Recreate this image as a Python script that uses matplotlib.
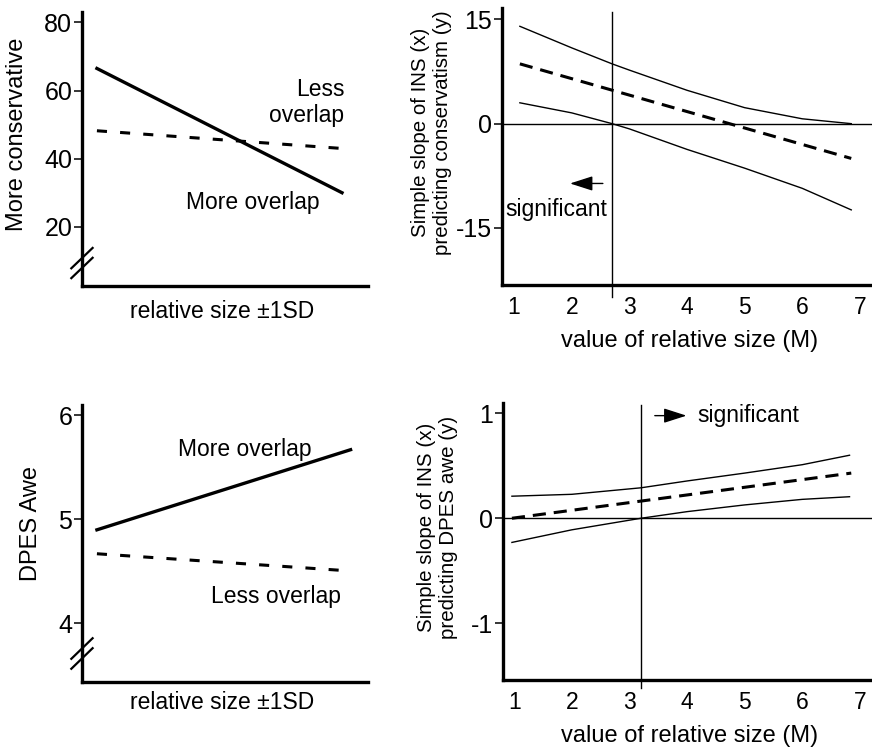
import matplotlib
matplotlib.use("Agg")
import matplotlib.pyplot as plt

plt.rcParams["font.family"] = ["Liberation Sans", "DejaVu Sans"]
plt.rcParams["axes.unicode_minus"] = False

# panel A: conservatism at relative size -1SD / +1SD
a_x_solid = [-1.0, 1.0]
a_more_overlap = [66.5, 30.0]
a_x_dash = [-1.0, 1.0]
a_less_overlap = [48.2, 43.0]
a_yticks = [20, 40, 60, 80]

# panel B: simple slope on conservatism across relative size
b_line_x = [1.1, 6.85]
b_slope = [8.6, -5.0]
b_ci_x = [1.1, 2.0, 2.7, 3.0, 4.0, 5.0, 6.0, 6.85]
b_ci_upper = [14.0, 10.9, 8.6, 7.7, 4.8, 2.3, 0.7, 0.0]
b_ci_lower = [3.0, 1.55, 0.0, -0.75, -3.7, -6.4, -9.3, -12.4]
b_jn = 2.70
b_yticks = [-15, 0, 15]

# panel C: DPES awe at relative size -1SD / +1SD
c_x_solid = [-1.0, 1.07]
c_more_overlap = [4.90, 5.67]
c_x_dash = [-1.0, 1.0]
c_less_overlap = [4.67, 4.51]
c_yticks = [4, 5, 6]

# panel D: simple slope on DPES awe across relative size
d_line_x = [0.96, 6.85]
d_slope = [0.0, 0.43]
d_ci_x = [0.96, 2.0, 3.2, 4.0, 5.0, 6.0, 6.82]
d_ci_upper = [0.21, 0.228, 0.29, 0.355, 0.43, 0.51, 0.60]
d_ci_lower = [-0.23, -0.11, 0.0, 0.063, 0.127, 0.18, 0.205]
d_jn = 3.2
d_yticks = [-1, 0, 1]

xticks_m = [1, 2, 3, 4, 5, 6, 7]

fig = plt.figure(figsize=(8.72, 7.48), dpi=100)
axA = fig.add_axes([0.094, 0.6176, 0.328, 0.366])
axB = fig.add_axes([0.5757, 0.619, 0.4243, 0.370])
axC = fig.add_axes([0.094, 0.0886, 0.328, 0.370])
axD = fig.add_axes([0.5765, 0.0909, 0.4235, 0.370])

SPINE = 2.4
THIN = 1.0
DASH_AC = (0, (3.3, 4.3))
DASH_BD = (0, (4.3, 2.6))
ARROW = dict(arrowstyle="-|>,head_length=1.4,head_width=0.45",
             mutation_scale=10, lw=1.0, color="k", shrinkA=0, shrinkB=0)


def style(ax):
    for s in ["top", "right"]:
        ax.spines[s].set_visible(False)
    for s in ["left", "bottom"]:
        ax.spines[s].set_linewidth(SPINE)
    ax.tick_params(axis="y", direction="out", length=6, width=1.1, pad=1, labelsize=18)
    ax.tick_params(axis="x", length=0, pad=8, labelsize=16.5)


def axis_break(ax, ys):
    for yb in ys:
        ax.plot([-0.04, 0.04], [yb - 0.04, yb + 0.04], transform=ax.transAxes,
                color="k", lw=1.6, clip_on=False, solid_capstyle="butt")


# ---- A
style(axA)
axA.plot(a_x_solid, a_more_overlap, color="k", lw=2.4)
axA.plot(a_x_dash, a_less_overlap, color="k", lw=2.2, linestyle=DASH_AC)
axA.set_xlim(-1.122, 1.212)
axA.set_ylim(2.6, 83)
axA.set_yticks(a_yticks)
axA.set_xticks([])
axA.set_ylabel("More conservative", fontsize=17)
axA.yaxis.set_label_coords(-0.19, 0.555)
axA.set_xlabel("relative size ±1SD", fontsize=16.5)
axA.xaxis.set_label_coords(0.49, -0.05)
axA.text(1.02, 56.5, "Less\noverlap", ha="right", va="center",
         multialignment="right", fontsize=16.5)
axA.text(0.27, 27.2, "More overlap", ha="center", va="center", fontsize=16.5)
axis_break(axA, [0.102, 0.066])

# ---- B
style(axB)
axB.plot(b_ci_x, b_ci_upper, color="k", lw=THIN)
axB.plot(b_ci_x, b_ci_lower, color="k", lw=THIN)
axB.plot(b_line_x, b_slope, color="k", lw=2.2, linestyle=DASH_BD)
axB.axhline(0, color="k", lw=THIN)
axB.axvline(b_jn, ymin=-0.043, ymax=0.986, color="k", lw=THIN, clip_on=False)
axB.set_xlim(0.79, 7.21)
axB.set_ylim(-23.2, 16.6)
axB.set_yticks(b_yticks)
axB.set_xticks(xticks_m)
axB.set_ylabel("Simple slope of INS (x)\npredicting conservatism (y)", fontsize=14.8,
               multialignment="center")
axB.yaxis.set_label_coords(-0.136, 0.55)
axB.set_xlabel("value of relative size (M)", fontsize=17)
axB.xaxis.set_label_coords(0.507, -0.163)
axB.annotate("", xy=(1.97, -8.6), xytext=(2.54, -8.6), arrowprops=ARROW)
axB.text(1.73, -12.4, "significant", ha="center", va="center", fontsize=16.5)

# ---- C
style(axC)
axC.plot(c_x_solid, c_more_overlap, color="k", lw=2.4)
axC.plot(c_x_dash, c_less_overlap, color="k", lw=2.2, linestyle=DASH_AC)
axC.set_xlim(-1.122, 1.212)
axC.set_ylim(3.44, 6.1)
axC.set_yticks(c_yticks)
axC.set_xticks([])
axC.set_ylabel("DPES Awe", fontsize=17)
axC.yaxis.set_label_coords(-0.14, 0.57)
axC.set_xlabel("relative size ±1SD", fontsize=16.5)
axC.xaxis.set_label_coords(0.49, -0.035)
axC.text(0.21, 5.67, "More overlap", ha="center", va="center", fontsize=16.5)
axC.text(0.46, 4.26, "Less overlap", ha="center", va="center", fontsize=16.5)
axis_break(axC, [0.12, 0.084])

# ---- D
style(axD)
axD.plot(d_ci_x, d_ci_upper, color="k", lw=THIN)
axD.plot(d_ci_x, d_ci_lower, color="k", lw=THIN)
axD.plot(d_line_x, d_slope, color="k", lw=2.2, linestyle=DASH_BD)
axD.axhline(0, color="k", lw=THIN)
axD.axvline(d_jn, ymin=-0.029, ymax=0.994, color="k", lw=THIN, clip_on=False)
axD.set_xlim(0.80, 7.21)
axD.set_ylim(-1.54, 1.095)
axD.set_yticks(d_yticks)
axD.set_xticks(xticks_m)
axD.set_ylabel("Simple slope of INS (x)\npredicting DPES awe (y)", fontsize=14.8,
               multialignment="center")
axD.yaxis.set_label_coords(-0.121, 0.553)
axD.set_xlabel("value of relative size (M)", fontsize=17)
axD.xaxis.set_label_coords(0.507, -0.163)
axD.annotate("", xy=(3.99, 0.977), xytext=(3.44, 0.977), arrowprops=ARROW)
axD.text(4.17, 0.977, "significant", ha="left", va="center", fontsize=16.5)

fig.savefig("out.png", dpi=100)
